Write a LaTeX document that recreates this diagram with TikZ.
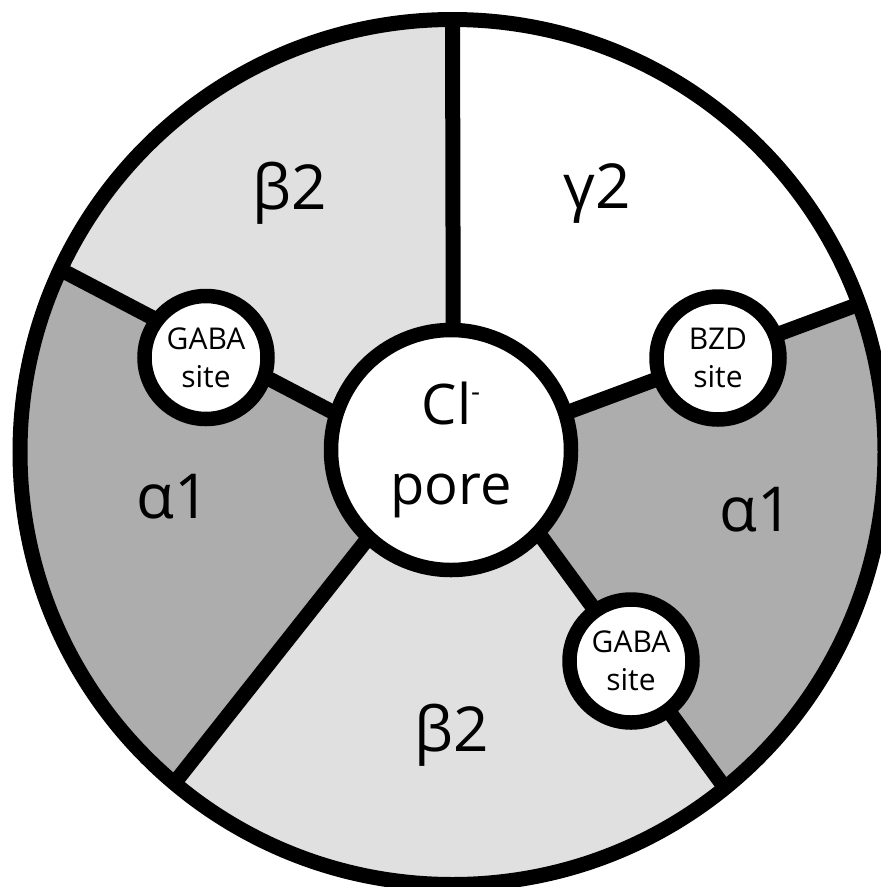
\documentclass[tikz,border=0pt]{standalone}
\usepackage{fontspec}
\setmainfont{Open Sans}
\usetikzlibrary{backgrounds}
\definecolor{betagray}{HTML}{E0E0E0}
\definecolor{alphagray}{HTML}{ADADAD}
\begin{document}
\begin{tikzpicture}[x=1pt,y=-1pt,
  ring/.style={circle,draw=black,line width=15pt,minimum size=865pt,inner sep=0pt},
  porebox/.style={circle,draw=black,fill=white,line width=14.5pt,minimum size=240pt,inner sep=0pt,align=center,font=\fontsize{56}{80}\selectfont},
  sitebox/.style={circle,draw=black,fill=white,line width=14.5pt,minimum size=123pt,inner sep=0pt,align=center,font=\fontsize{30}{38}\selectfont},
  spoke/.style={line width=15pt,draw=black,shorten <=-15pt,shorten >=4pt},
  sublabel/.style={font=\fontsize{62}{66}\selectfont,inner sep=0pt}]
\useasboundingbox (0,0) rectangle (881,887);
% outer ring
\node[ring] (ring) at (452.5,452) {};
% binding sites
\node[sitebox] (gabaL) at (206,357.5) {GABA\\site};
\node[sitebox] (bzd) at (718,358) {BZD\\site};
\node[sitebox] (gabaR) at (631,661) {GABA\\site};
% pore
\node[porebox] (pore) at (451,450) {Cl\raisebox{23pt}{\fontsize{28}{28}\selectfont -}\\pore};
% subunit labels
\node[sublabel] (b2top) at (290,193) {β2};
\node[sublabel] (g2) at (597,193) {γ2};
\node[sublabel] (a1left) at (173,497) {α1};
\node[sublabel] (a1right) at (756,510) {α1};
\node[sublabel] (b2bot) at (452,735) {β2};
\begin{scope}[on background layer]
  \begin{scope}
    \clip (452.5,452) circle[radius=432.5];
    \fill[alphagray] (0,0) rectangle (1000,1000);
    \fill[betagray] (451,450) -- (330,412) -- (-300.5,96.8) -- (-300,-500) -- (453,-500) -- (453,330) -- cycle;
    \fill[white] (451,450) -- (453,330) -- (453,-500) -- (1300,-500) -- (1231.2,156.7) -- (570,410) -- cycle;
    \fill[betagray] (451,450) -- (542.1,539.4) -- (959.8,1112.4) -- (959.8,1400) -- (-71.1,1400) -- (-71.1,1099.8) -- (363.8,543.4) -- cycle;
  \end{scope}
  \draw[spoke] (pore.89) -- (ring.90);
  \draw[spoke] (pore.162.6) -- (ring.155.96);
  \draw[spoke] (pore.18.6) -- (ring.20.58);
  \draw[spoke] (pore.-44.5) -- (ring.-51.14);
  \draw[spoke] (pore.227) -- (ring.230.19);
\end{scope}
\end{tikzpicture}
\end{document}
